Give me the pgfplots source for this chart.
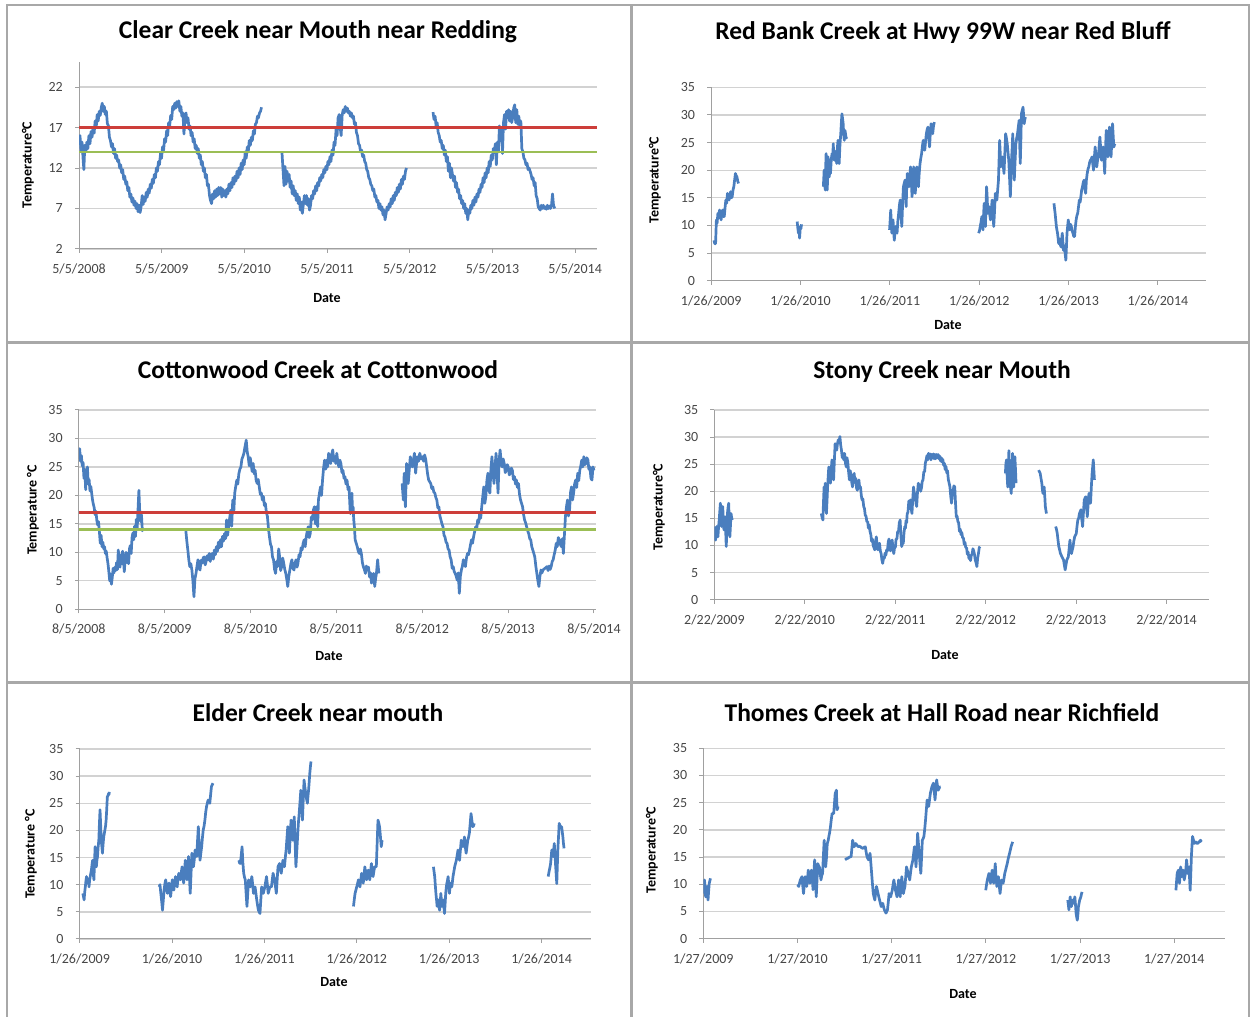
\documentclass[border=0pt]{standalone}
\usepackage{fontspec}
\setmainfont{Carlito}
\usepackage{pgfplots}
\pgfplotsset{compat=1.18}
\definecolor{serc}{RGB}{74,126,190}
\definecolor{redl}{RGB}{205,62,58}
\definecolor{greenl}{RGB}{155,190,85}
\definecolor{gridc}{RGB}{210,210,210}
\definecolor{axc}{RGB}{160,160,160}
\definecolor{tickc}{RGB}{70,70,70}
\definecolor{framec}{RGB}{168,168,168}
\newcommand\tf{\fontsize{25.5}{30}\selectfont\bfseries}
\newcommand\lf{\fontsize{14}{16}\selectfont\bfseries}
\pgfplotsset{
 panel/.style={
  scale only axis,
  axis x line*=bottom, axis y line*=left,
  axis line style={draw=axc, line width=1pt},
  ymajorgrids, major grid style={draw=gridc, line width=1.3pt},
  tick align=outside, major tick length=4pt,
  tick style={draw=axc, line width=1pt},
  xmin=0, xtick={0,1,2,3,4,5,6},
  /pgf/number format/assume math mode=true,
  ticklabel style={font=\fontsize{14}{16}\selectfont, text=tickc},
  xticklabel style={anchor=center, yshift=-16pt, inner sep=0pt},
  yticklabel style={anchor=east, xshift=-12pt, inner sep=0pt},
 },
 ser/.style={color=serc, line width=2.7pt, line join=round, no markers},
 redline/.style={color=redl, line width=2.4pt, no markers},
 greenline/.style={color=greenl, line width=2.4pt, no markers},
}
\begin{document}
\begin{tikzpicture}[x=1pt,y=1pt]
\useasboundingbox (0,0) rectangle (1251,1017);
% frames
\draw[framec, line width=2pt] (7,0) -- (7,1012) -- (1249,1012) -- (1249,0);
\draw[framec, line width=3pt] (631,0) -- (631,1012);
\draw[framec, line width=3pt] (7,674.5) -- (1249,674.5);
\draw[framec, line width=3pt] (7,334.5) -- (1249,334.5);

% ---------- Panel 1 ----------
\begin{axis}[panel, at={(79pt,768pt)}, anchor=south west, width=518pt, height=187pt,
  xmax=6.264, ymin=2, ymax=25.09, ytick={2,7,12,17,22},
  xticklabels={5/5/2008,5/5/2009,5/5/2010,5/5/2011,5/5/2012,5/5/2013,5/5/2014}]
\addplot[ser] coordinates {(0.000,15.0) (0.012,16.0) (0.025,14.0) (0.037,15.2) (0.050,13.0) (0.059,11.8) (0.070,14.8) (0.082,14.0) (0.095,15.2) (0.107,14.4) (0.120,16.0) (0.133,15.0) (0.145,16.5) (0.158,15.8) (0.170,17.0) (0.183,16.3) (0.195,17.8) (0.208,17.0) (0.220,18.6) (0.232,17.8) (0.245,19.0) (0.257,18.5) (0.270,19.5) (0.281,20.0) (0.293,19.0) (0.306,19.6) (0.318,18.6) (0.331,19.0) (0.343,17.5) (0.356,17.2) (0.368,15.8) (0.380,15.4) (0.393,14.6) (0.405,15.0) (0.418,13.8) (0.430,14.4) (0.443,13.2) (0.455,13.6) (0.467,12.8) (0.479,13.0) (0.492,12.0) (0.504,12.4) (0.516,11.4) (0.528,11.8) (0.541,10.6) (0.553,11.0) (0.566,10.0) (0.578,10.3) (0.590,9.2) (0.603,9.6) (0.615,8.4) (0.627,8.8) (0.640,7.8) (0.652,8.3) (0.665,7.4) (0.677,7.9) (0.690,7.0) (0.702,7.6) (0.714,6.6) (0.727,7.4) (0.739,6.5) (0.751,7.2) (0.764,8.6) (0.776,7.5) (0.788,8.4) (0.800,7.9) (0.813,9.0) (0.825,8.4) (0.837,9.4) (0.849,8.9) (0.862,10.0) (0.874,9.5) (0.887,10.6) (0.899,10.1) (0.911,11.2) (0.924,10.8) (0.936,12.0) (0.948,11.6) (0.961,12.8) (0.973,12.4) (0.986,13.8) (0.998,13.2) (1.010,14.6) (1.023,14.2) (1.035,15.6) (1.047,15.2) (1.060,16.6) (1.072,16.0) (1.084,17.6) (1.096,17.2) (1.109,18.5) (1.121,18.0) (1.133,19.6) (1.146,19.2) (1.158,20.0) (1.170,19.4) (1.183,20.2) (1.195,19.6) (1.207,20.3) (1.220,19.0) (1.232,19.6) (1.244,18.4) (1.257,18.8) (1.269,16.2) (1.281,18.0) (1.294,18.8) (1.306,17.6) (1.318,18.2) (1.331,16.8) (1.343,17.2) (1.355,16.0) (1.368,16.4) (1.380,15.2) (1.393,15.6) (1.405,14.4) (1.418,14.8) (1.430,13.8) (1.442,14.4) (1.455,13.2) (1.467,13.6) (1.479,12.4) (1.491,12.8) (1.504,11.6) (1.516,12.0) (1.528,10.8) (1.541,11.2) (1.553,9.8) (1.565,10.0) (1.578,8.6) (1.590,8.0) (1.603,7.6) (1.615,8.8) (1.628,8.2) (1.640,9.2) (1.652,8.4) (1.665,9.4) (1.677,8.6) (1.689,9.6) (1.702,8.8) (1.714,9.6) (1.727,8.4) (1.739,9.4) (1.751,8.6) (1.764,9.2) (1.776,8.4) (1.788,9.4) (1.800,8.8) (1.813,10.0) (1.825,9.2) (1.837,10.2) (1.849,9.6) (1.862,10.8) (1.874,10.0) (1.886,11.0) (1.899,10.4) (1.911,11.6) (1.924,10.8) (1.936,12.0) (1.948,11.2) (1.961,12.6) (1.973,11.8) (1.985,13.0) (1.998,12.4) (2.010,14.0) (2.022,13.2) (2.035,14.6) (2.047,14.0) (2.059,15.4) (2.072,14.8) (2.084,15.8) (2.096,15.4) (2.109,16.6) (2.121,16.2) (2.133,17.4) (2.146,17.6) (2.158,18.4) (2.170,18.2) (2.183,18.8) (2.195,19.0) (2.207,19.5)};
\addplot[ser] coordinates {(2.454,14.0) (2.466,12.0) (2.479,9.8) (2.491,12.2) (2.504,10.0) (2.516,11.6) (2.528,10.4) (2.541,11.2) (2.553,9.6) (2.565,10.4) (2.578,8.8) (2.590,9.8) (2.602,8.6) (2.615,9.2) (2.627,8.0) (2.639,8.8) (2.652,7.6) (2.664,8.4) (2.676,6.8) (2.689,7.8) (2.701,6.4) (2.714,7.6) (2.726,8.6) (2.738,7.6) (2.751,8.6) (2.763,7.4) (2.775,8.2) (2.788,6.8) (2.800,7.4) (2.812,8.6) (2.825,8.2) (2.837,9.2) (2.849,8.8) (2.862,9.8) (2.874,9.2) (2.886,10.2) (2.899,9.8) (2.911,10.8) (2.923,10.4) (2.936,11.2) (2.948,10.8) (2.960,11.8) (2.973,11.4) (2.985,12.2) (2.998,11.8) (3.010,12.8) (3.022,12.4) (3.035,13.4) (3.047,12.8) (3.059,14.2) (3.072,13.6) (3.084,15.2) (3.096,14.8) (3.109,16.8) (3.121,16.0) (3.133,18.2) (3.146,18.6) (3.158,17.0) (3.170,16.0) (3.183,18.6) (3.195,19.2) (3.207,18.8) (3.220,19.6) (3.232,19.0) (3.245,19.4) (3.257,18.8) (3.269,19.0) (3.282,18.4) (3.294,18.8) (3.306,18.2) (3.318,18.4) (3.331,17.4) (3.343,17.6) (3.355,16.4) (3.368,16.0) (3.380,15.0) (3.393,14.8) (3.405,14.0) (3.418,14.2) (3.430,13.4) (3.442,13.6) (3.455,12.8) (3.467,12.6) (3.479,11.8) (3.491,11.6) (3.504,10.8) (3.516,10.6) (3.528,10.0) (3.541,9.8) (3.553,9.2) (3.565,9.4) (3.578,8.4) (3.590,8.6) (3.602,7.8) (3.615,8.0) (3.627,7.0) (3.639,7.6) (3.652,6.8) (3.664,7.2) (3.676,6.2) (3.689,6.8) (3.701,5.6) (3.714,6.4) (3.726,7.2) (3.738,6.8) (3.751,7.6) (3.763,7.2) (3.775,8.2) (3.788,7.6) (3.800,8.6) (3.812,8.0) (3.825,9.0) (3.837,8.6) (3.849,9.6) (3.862,9.0) (3.874,10.0) (3.886,9.4) (3.899,10.6) (3.911,10.0) (3.923,11.0) (3.936,10.6) (3.948,11.6) (3.960,12.0)};
\addplot[ser] coordinates {(4.281,18.9) (4.293,18.0) (4.306,18.4) (4.318,17.2) (4.331,17.6) (4.343,16.4) (4.356,16.0) (4.368,15.2) (4.380,15.4) (4.393,14.4) (4.405,14.8) (4.418,13.6) (4.430,14.2) (4.442,12.8) (4.455,13.4) (4.467,11.6) (4.479,12.6) (4.492,10.8) (4.504,12.0) (4.516,11.2) (4.528,10.4) (4.541,11.0) (4.553,9.6) (4.565,10.2) (4.578,9.0) (4.590,9.4) (4.602,8.2) (4.615,8.6) (4.627,7.6) (4.639,8.0) (4.652,7.0) (4.664,7.6) (4.677,6.4) (4.689,7.0) (4.701,5.6) (4.714,6.8) (4.726,6.4) (4.738,7.4) (4.751,7.0) (4.763,8.0) (4.775,7.4) (4.788,8.4) (4.800,7.8) (4.812,8.8) (4.825,8.4) (4.837,9.4) (4.849,9.0) (4.862,10.0) (4.874,9.6) (4.886,10.8) (4.899,10.2) (4.911,11.4) (4.923,10.8) (4.936,12.0) (4.948,11.4) (4.960,12.8) (4.973,12.2) (4.985,13.6) (4.998,13.0) (5.010,14.4) (5.022,14.0) (5.035,15.0) (5.047,12.4) (5.059,15.2) (5.072,14.0) (5.084,17.2) (5.096,15.4) (5.109,17.0) (5.121,13.8) (5.133,17.6) (5.146,18.6) (5.158,16.8) (5.170,19.0) (5.183,18.2) (5.195,19.2) (5.207,17.8) (5.220,19.0) (5.232,17.6) (5.244,18.2) (5.257,19.4) (5.269,19.8) (5.281,17.6) (5.294,19.2) (5.306,17.4) (5.318,18.4) (5.331,17.2) (5.343,17.8) (5.355,14.4) (5.368,14.0) (5.380,13.2) (5.393,13.0) (5.405,12.4) (5.418,12.6) (5.430,11.8) (5.442,12.0) (5.455,11.6) (5.467,11.2) (5.479,10.6) (5.491,10.8) (5.504,9.8) (5.516,10.2) (5.528,8.6) (5.541,8.2) (5.553,7.2) (5.565,7.0) (5.578,6.8) (5.590,7.4) (5.602,7.0) (5.615,7.4) (5.627,7.0) (5.640,7.2) (5.652,6.9) (5.664,7.4) (5.677,7.0) (5.689,7.3) (5.701,7.0) (5.714,7.4) (5.726,8.8) (5.738,7.4) (5.753,7.0)};
\addplot[redline] coordinates {(0,17) (6.264,17)};
\addplot[greenline] coordinates {(0,14) (6.264,14)};
\end{axis}

% ---------- Panel 2 ----------
\begin{axis}[panel, at={(711.2pt,736.3pt)}, anchor=south west, width=495pt, height=193.4pt,
  xmax=5.54, ymin=0, ymax=35, ytick={0,5,...,35},
  xticklabels={1/26/2009,1/26/2010,1/26/2011,1/26/2012,1/26/2013,1/26/2014}]
\addplot[ser] coordinates {(0.031,7.3) (0.040,6.7) (0.049,6.7) (0.058,11.0) (0.066,10.4) (0.075,12.2) (0.084,11.4) (0.093,12.8) (0.102,11.6) (0.111,11.0) (0.120,12.4) (0.129,12.8) (0.137,11.6) (0.146,11.6) (0.155,13.2) (0.164,14.6) (0.173,14.0) (0.182,15.8) (0.191,15.0) (0.200,14.6) (0.208,15.4) (0.217,16.1) (0.226,15.0) (0.235,15.2) (0.244,16.4) (0.253,17.0) (0.262,18.2) (0.271,19.4) (0.280,19.0) (0.288,18.8) (0.297,18.0) (0.306,17.6)};
\addplot[ser] coordinates {(0.962,10.7) (0.969,9.6) (0.976,8.6) (0.983,9.2) (0.989,7.7) (0.998,9.8) (1.004,9.4) (1.011,10.2)};
\addplot[ser] coordinates {(1.255,17.0) (1.260,18.6) (1.264,20.0) (1.270,17.4) (1.277,16.4) (1.281,20.4) (1.286,23.0) (1.292,20.0) (1.299,16.4) (1.304,19.6) (1.308,22.4) (1.315,20.0) (1.322,18.8) (1.328,21.0) (1.335,19.4) (1.344,22.0) (1.353,23.0) (1.360,22.0) (1.366,24.8) (1.372,22.6) (1.379,21.8) (1.388,23.4) (1.397,22.4) (1.405,21.2) (1.412,24.0) (1.419,25.4) (1.425,23.2) (1.432,21.2) (1.441,24.6) (1.450,26.6) (1.456,28.4) (1.463,30.2) (1.470,29.4) (1.477,28.4) (1.483,26.4) (1.490,25.4) (1.497,27.2) (1.503,26.6) (1.510,25.8) (1.517,26.0)};
\addplot[ser] coordinates {(1.996,9.2) (2.003,11.0) (2.009,12.8) (2.016,10.2) (2.022,8.6) (2.029,10.4) (2.035,11.0) (2.042,9.0) (2.049,7.3) (2.055,8.4) (2.062,9.8) (2.071,9.0) (2.080,8.6) (2.089,10.8) (2.098,12.2) (2.106,13.6) (2.115,14.6) (2.124,12.0) (2.133,9.8) (2.142,13.8) (2.151,17.0) (2.160,17.6) (2.169,18.2) (2.175,15.8) (2.182,13.4) (2.188,16.8) (2.195,19.4) (2.204,18.2) (2.213,17.0) (2.222,19.0) (2.231,20.6) (2.240,17.8) (2.248,15.2) (2.257,18.0) (2.266,20.6) (2.275,18.4) (2.284,15.8) (2.293,18.6) (2.302,20.6) (2.311,19.2) (2.319,17.0) (2.328,19.4) (2.337,21.2) (2.346,22.2) (2.355,23.0) (2.364,24.4) (2.373,25.4) (2.381,24.4) (2.390,23.6) (2.399,25.2) (2.408,26.6) (2.417,27.4) (2.426,27.8) (2.435,25.8) (2.444,24.2) (2.452,26.6) (2.461,28.4) (2.470,27.4) (2.479,26.6) (2.488,28.0) (2.497,28.7)};
\addplot[ser] coordinates {(2.993,8.6) (3.002,9.0) (3.011,9.8) (3.020,10.6) (3.029,11.6) (3.035,10.2) (3.042,9.2) (3.048,11.8) (3.055,14.0) (3.062,12.0) (3.069,9.8) (3.075,13.4) (3.082,17.0) (3.089,15.0) (3.095,12.2) (3.102,12.6) (3.109,13.4) (3.117,12.0) (3.126,11.0) (3.135,12.8) (3.144,14.6) (3.153,12.2) (3.162,9.8) (3.171,12.6) (3.180,15.8) (3.189,15.4) (3.197,14.6) (3.206,16.4) (3.215,18.2) (3.222,22.0) (3.228,25.4) (3.235,23.0) (3.242,20.6) (3.250,21.4) (3.259,22.4) (3.268,21.0) (3.277,19.4) (3.286,23.0) (3.295,26.6) (3.304,25.8) (3.313,24.8) (3.321,23.4) (3.330,21.8) (3.339,18.6) (3.348,15.2) (3.354,18.4) (3.361,21.8) (3.368,24.0) (3.375,26.6) (3.383,22.4) (3.392,18.2) (3.401,21.6) (3.410,24.8) (3.419,25.8) (3.428,26.6) (3.437,27.8) (3.446,29.0) (3.452,25.0) (3.459,21.2) (3.466,25.6) (3.472,30.2) (3.481,30.8) (3.490,31.4) (3.497,29.8) (3.503,28.4) (3.510,29.2) (3.517,29.6)};
\addplot[ser] coordinates {(3.836,14.0) (3.843,13.0) (3.849,12.2) (3.856,11.0) (3.863,9.8) (3.869,9.2) (3.876,8.6) (3.883,7.6) (3.889,6.7) (3.896,7.6) (3.902,7.3) (3.909,6.4) (3.916,6.1) (3.922,7.4) (3.929,8.6) (3.936,7.0) (3.942,5.5) (3.949,6.4) (3.956,6.1) (3.962,4.8) (3.969,3.7) (3.976,6.2) (3.982,8.6) (3.989,9.8) (3.996,11.0) (4.004,10.0) (4.013,9.2) (4.022,10.2) (4.031,9.8) (4.040,9.0) (4.049,8.6) (4.058,8.0) (4.067,8.0) (4.076,9.8) (4.084,11.0) (4.093,11.8) (4.102,12.2) (4.111,13.4) (4.120,14.6) (4.129,14.2) (4.137,15.2) (4.146,16.4) (4.155,17.0) (4.164,17.8) (4.173,18.2) (4.182,16.6) (4.191,15.8) (4.199,18.2) (4.208,19.4) (4.217,20.2) (4.226,20.6) (4.235,21.4) (4.244,21.8) (4.253,22.0) (4.262,22.4) (4.270,21.2) (4.279,20.0) (4.288,22.2) (4.297,24.2) (4.306,22.6) (4.315,20.6) (4.324,21.8) (4.333,22.4) (4.341,24.2) (4.350,26.0) (4.359,24.0) (4.368,21.8) (4.377,23.0) (4.386,24.2) (4.395,22.0) (4.404,19.4) (4.412,23.4) (4.421,27.2) (4.430,24.8) (4.439,22.4) (4.448,25.2) (4.457,27.8) (4.466,25.0) (4.475,22.4) (4.484,25.4) (4.492,28.4) (4.499,26.2) (4.506,24.2) (4.513,24.6) (4.519,24.8)};
\end{axis}

% ---------- Panel 3 ----------
\begin{axis}[panel, at={(78.8pt,407.7pt)}, anchor=south west, width=517.2pt, height=199.3pt,
  xmax=6.024, ymin=0, ymax=35, ytick={0,5,...,35},
  xticklabels={8/5/2008,8/5/2009,8/5/2010,8/5/2011,8/5/2012,8/5/2013,8/5/2014}]
\addplot[ser] coordinates {(0.000,27.0) (0.010,28.2) (0.020,26.0) (0.030,27.0) (0.040,25.2) (0.050,25.8) (0.060,23.0) (0.070,24.6) (0.080,21.0) (0.090,24.0) (0.100,25.0) (0.110,22.0) (0.120,22.8) (0.130,20.8) (0.140,21.6) (0.150,20.4) (0.160,19.2) (0.170,18.4) (0.180,17.8) (0.190,16.6) (0.200,17.2) (0.210,15.6) (0.220,14.8) (0.230,15.4) (0.240,13.6) (0.250,11.6) (0.260,13.0) (0.270,11.0) (0.280,11.8) (0.290,10.6) (0.300,11.0) (0.310,9.8) (0.320,10.2) (0.330,9.0) (0.340,8.0) (0.350,6.6) (0.360,5.0) (0.370,6.2) (0.380,4.4) (0.390,5.6) (0.400,7.2) (0.410,6.4) (0.420,7.4) (0.430,6.8) (0.440,8.2) (0.450,7.0) (0.460,10.4) (0.470,8.6) (0.480,7.4) (0.490,9.6) (0.500,8.0) (0.510,10.2) (0.520,8.6) (0.530,6.6) (0.540,8.8) (0.550,10.0) (0.560,8.2) (0.570,9.8) (0.580,8.0) (0.590,10.6) (0.600,11.2) (0.610,9.8) (0.620,12.6) (0.630,13.4) (0.640,12.2) (0.650,14.6) (0.660,12.8) (0.670,15.8) (0.680,14.2) (0.690,17.6) (0.700,20.9) (0.710,17.0) (0.720,15.4) (0.730,16.6) (0.740,13.8) (0.747,14.2)};
\addplot[ser] coordinates {(1.246,13.9) (1.258,12.0) (1.270,10.4) (1.282,8.6) (1.293,7.5) (1.305,8.0) (1.317,6.9) (1.329,5.0) (1.341,2.2) (1.353,5.4) (1.365,6.3) (1.377,7.6) (1.388,8.7) (1.400,7.2) (1.412,6.9) (1.424,8.6) (1.436,8.1) (1.448,9.0) (1.460,9.2) (1.472,7.8) (1.483,8.4) (1.495,9.4) (1.507,8.7) (1.519,9.8) (1.531,8.4) (1.543,9.6) (1.555,9.8) (1.567,8.8) (1.579,10.4) (1.591,9.6) (1.603,11.0) (1.615,10.2) (1.626,11.8) (1.638,10.8) (1.650,12.2) (1.662,11.0) (1.674,12.8) (1.686,12.0) (1.698,13.3) (1.710,12.4) (1.721,15.7) (1.733,13.0) (1.745,14.5) (1.757,16.0) (1.769,17.4) (1.781,14.6) (1.793,19.2) (1.805,17.0) (1.816,20.4) (1.828,21.6) (1.840,22.7) (1.852,22.0) (1.864,23.8) (1.876,24.6) (1.888,25.0) (1.900,26.4) (1.911,26.8) (1.923,27.4) (1.935,28.5) (1.950,29.7) (1.962,27.6) (1.973,26.8) (1.985,25.2) (1.997,26.6) (2.007,25.6) (2.019,24.2) (2.031,25.6) (2.043,23.8) (2.054,24.4) (2.066,22.6) (2.078,22.1) (2.090,22.8) (2.102,21.5) (2.114,20.2) (2.126,20.4) (2.138,19.2) (2.150,19.8) (2.162,18.2) (2.173,18.6) (2.185,17.0) (2.197,16.3) (2.209,14.2) (2.221,12.7) (2.233,11.4) (2.244,11.0) (2.256,9.2) (2.268,8.7) (2.280,7.0) (2.292,6.3) (2.304,8.4) (2.316,7.5) (2.328,10.6) (2.339,9.2) (2.351,6.8) (2.363,7.5) (2.375,9.0) (2.387,8.1) (2.399,7.0) (2.411,6.3) (2.423,5.2) (2.434,4.0) (2.446,5.8) (2.458,6.9) (2.470,8.0) (2.482,8.7) (2.494,7.2) (2.506,6.9) (2.518,8.0) (2.530,8.7) (2.542,7.4) (2.553,8.1) (2.565,9.6) (2.577,9.2) (2.589,10.8) (2.601,10.4) (2.613,11.6) (2.625,12.2) (2.637,11.0) (2.649,12.7) (2.661,13.8) (2.672,14.5) (2.684,12.6) (2.696,13.3) (2.708,16.2) (2.720,15.7) (2.732,17.4) (2.744,18.0) (2.756,15.0) (2.767,18.0) (2.782,14.5) (2.791,19.2) (2.803,20.4) (2.815,21.5) (2.827,20.0) (2.839,22.7) (2.851,24.8) (2.863,26.2) (2.875,24.6) (2.886,26.2) (2.898,25.0) (2.910,27.4) (2.922,26.0) (2.934,25.6) (2.946,27.2) (2.958,28.0) (2.970,26.0) (2.981,26.8) (2.993,25.6) (3.005,27.4) (3.017,25.8) (3.029,25.0) (3.041,26.2) (3.053,25.6) (3.065,24.0) (3.077,24.4) (3.089,23.0) (3.100,23.3) (3.112,22.0) (3.124,22.7) (3.136,21.0) (3.148,21.5) (3.155,19.0) (3.162,16.8) (3.172,19.6) (3.181,20.4) (3.188,17.2) (3.195,18.0) (3.202,15.8) (3.210,14.5) (3.219,12.2) (3.231,11.6) (3.243,11.0) (3.255,10.2) (3.267,9.8) (3.279,10.6) (3.291,9.8) (3.303,8.2) (3.314,7.5) (3.326,7.0) (3.338,6.3) (3.350,7.6) (3.362,6.9) (3.374,7.4) (3.386,5.7) (3.398,6.4) (3.409,4.6) (3.421,5.6) (3.433,6.3) (3.440,5.2) (3.447,4.0) (3.457,5.4) (3.467,6.3) (3.474,7.6) (3.481,8.7) (3.488,7.4) (3.495,6.3)};
\addplot[ser] coordinates {(3.766,22.1) (3.780,19.2) (3.790,23.9) (3.804,18.0) (3.818,25.6) (3.837,22.1) (3.861,26.8) (3.885,25.0) (3.909,27.4) (3.923,23.9) (3.942,26.8) (3.957,26.0) (3.971,27.4) (3.988,26.4) (4.004,26.8) (4.016,26.0) (4.028,27.1) (4.040,26.4) (4.052,25.0) (4.064,23.6) (4.075,22.7) (4.087,22.4) (4.099,22.1) (4.111,21.2) (4.123,21.5) (4.135,20.6) (4.147,20.4) (4.159,19.6) (4.170,19.2) (4.182,17.8) (4.194,18.0) (4.206,16.4) (4.218,15.7) (4.230,15.0) (4.242,14.5) (4.254,13.0) (4.265,12.7) (4.277,11.8) (4.289,11.6) (4.301,10.6) (4.313,10.4) (4.325,9.2) (4.337,8.7) (4.349,7.2) (4.361,7.5) (4.373,6.6) (4.384,6.3) (4.396,5.8) (4.408,5.1) (4.420,6.4) (4.432,2.8) (4.444,5.8) (4.456,6.9) (4.468,7.6) (4.479,8.7) (4.491,8.0) (4.503,7.5) (4.515,9.0) (4.527,9.8) (4.539,9.6) (4.551,10.4) (4.563,11.4) (4.574,12.2) (4.586,11.6) (4.598,12.7) (4.610,13.6) (4.622,14.5) (4.634,14.0) (4.646,15.7) (4.658,15.2) (4.669,16.8) (4.681,16.0) (4.693,18.0) (4.705,19.8) (4.717,21.5) (4.729,18.6) (4.741,19.8) (4.753,22.6) (4.765,23.9) (4.777,21.0) (4.788,20.4) (4.800,24.6) (4.812,26.8) (4.824,24.0) (4.836,22.1) (4.848,25.0) (4.860,27.4) (4.872,23.8) (4.883,20.4) (4.895,26.0) (4.907,28.0) (4.919,26.0) (4.931,25.0) (4.943,26.4) (4.955,25.6) (4.967,24.0) (4.979,24.4) (4.990,25.4) (5.002,25.0) (5.014,23.6) (5.026,23.9) (5.038,24.8) (5.050,24.4) (5.062,22.8) (5.074,23.3) (5.086,22.0) (5.097,22.7) (5.109,21.4) (5.121,22.1) (5.133,20.2) (5.145,19.2) (5.157,18.6) (5.169,18.0) (5.181,16.6) (5.192,15.7) (5.204,15.2) (5.216,14.5) (5.228,13.8) (5.240,13.3) (5.252,12.4) (5.264,12.2) (5.276,11.0) (5.288,10.4) (5.300,9.8) (5.311,9.2) (5.323,7.6) (5.335,6.3) (5.347,5.0) (5.359,4.0) (5.371,5.8) (5.383,6.9) (5.395,6.4) (5.406,6.9) (5.430,7.2) (5.454,7.5) (5.466,6.8) (5.478,7.6) (5.490,7.0) (5.502,7.5) (5.514,8.4) (5.525,8.7) (5.537,9.6) (5.549,10.4) (5.561,11.6) (5.573,11.0) (5.585,12.6) (5.597,12.2) (5.609,11.4) (5.620,11.0) (5.632,12.4) (5.644,9.8) (5.656,13.0) (5.668,16.3) (5.680,18.0) (5.692,19.2) (5.704,16.4) (5.716,17.4) (5.728,20.6) (5.739,21.5) (5.751,19.2) (5.763,20.4) (5.775,22.0) (5.787,22.7) (5.799,21.4) (5.811,23.9) (5.823,22.6) (5.835,24.4) (5.847,25.2) (5.858,26.2) (5.870,25.0) (5.882,26.8) (5.894,25.4) (5.906,25.6) (5.918,26.6) (5.930,26.2) (5.941,24.6) (5.953,25.0) (5.965,23.0) (5.977,22.7) (5.989,25.0) (6.000,24.4)};
\addplot[redline] coordinates {(0,17) (6.024,17)};
\addplot[greenline] coordinates {(0,14) (6.024,14)};
\end{axis}

% ---------- Panel 4 ----------
\begin{axis}[panel, at={(714.4pt,417.3pt)}, anchor=south west, width=494.6pt, height=189.7pt,
  xmax=5.47, ymin=0, ymax=35, ytick={0,5,...,35},
  xticklabels={2/22/2009,2/22/2010,2/22/2011,2/22/2012,2/22/2013,2/22/2014}]
\addplot[ser] coordinates {(0,13.5) (0.007,12.0) (0.013,11.0) (0.020,12.8) (0.026,13.5) (0.033,12.0) (0.039,11.6) (0.046,13.4) (0.053,14.7) (0.060,16.4) (0.066,17.8) (0.073,15.0) (0.079,13.5) (0.086,15.4) (0.092,17.2) (0.099,14.6) (0.105,12.9) (0.112,14.2) (0.118,15.3) (0.125,12.6) (0.131,9.8) (0.138,13.0) (0.144,15.9) (0.151,17.0) (0.158,17.8) (0.164,14.6) (0.171,11.6) (0.178,13.8) (0.184,15.9) (0.190,15.2) (0.197,14.7)};
\addplot[ser] coordinates {(1.182,15.9) (1.191,15.2) (1.200,14.7) (1.206,17.8) (1.213,20.8) (1.220,20.0) (1.226,21.5) (1.233,18.6) (1.239,15.9) (1.246,18.4) (1.252,20.8) (1.258,22.6) (1.265,24.5) (1.274,23.0) (1.283,21.5) (1.291,23.6) (1.300,25.8) (1.309,24.0) (1.318,22.1) (1.326,25.4) (1.335,28.8) (1.344,28.0) (1.353,27.6) (1.361,28.8) (1.370,29.5) (1.379,29.0) (1.388,30.1) (1.396,28.6) (1.405,27.6) (1.414,26.2) (1.423,27.0) (1.431,25.8) (1.440,27.0) (1.449,25.2) (1.458,24.5) (1.466,26.2) (1.475,25.4) (1.484,23.6) (1.493,22.1) (1.502,23.8) (1.511,23.0) (1.519,21.6) (1.528,20.8) (1.537,22.8) (1.546,23.3) (1.554,21.6) (1.563,22.4) (1.572,20.6) (1.581,20.2) (1.590,21.6) (1.598,22.1) (1.607,20.6) (1.616,20.8) (1.625,19.2) (1.633,18.4) (1.642,18.6) (1.651,17.2) (1.660,16.8) (1.668,15.6) (1.677,15.4) (1.686,14.4) (1.695,14.4) (1.703,13.2) (1.712,13.8) (1.721,12.6) (1.730,12.0) (1.738,10.8) (1.747,11.2) (1.756,10.0) (1.765,9.6) (1.773,9.2) (1.782,10.8) (1.791,11.6) (1.800,9.8) (1.808,9.2) (1.817,10.2) (1.826,10.4) (1.835,9.0) (1.844,8.5) (1.852,7.4) (1.861,6.7) (1.870,7.6) (1.879,7.6) (1.887,8.6) (1.896,8.2) (1.905,9.2) (1.914,9.0) (1.922,10.6) (1.931,11.2) (1.940,9.8) (1.948,9.0) (1.957,10.6) (1.966,11.0) (1.975,9.4) (1.984,8.5) (1.992,9.6) (2.001,9.6) (2.009,11.2) (2.018,11.2) (2.027,12.6) (2.036,12.6) (2.045,14.2) (2.054,14.7) (2.062,12.0) (2.071,9.8) (2.080,10.4) (2.089,10.4) (2.097,12.4) (2.106,13.5) (2.113,13.2) (2.119,14.6) (2.126,14.2) (2.132,15.8) (2.141,16.2) (2.150,18.2) (2.158,17.6) (2.167,18.4) (2.176,16.8) (2.185,15.9) (2.193,18.4) (2.202,20.8) (2.211,19.6) (2.220,19.6) (2.229,17.8) (2.237,17.2) (2.246,19.8) (2.255,21.5) (2.263,20.6) (2.272,21.2) (2.281,20.0) (2.290,20.6) (2.298,21.8) (2.307,22.1) (2.316,23.6) (2.325,23.6) (2.333,25.2) (2.342,25.8) (2.351,26.6) (2.360,25.8) (2.368,27.0) (2.377,26.4) (2.386,26.9) (2.395,25.8) (2.403,26.8) (2.412,26.2) (2.421,26.9) (2.430,26.0) (2.438,26.8) (2.447,26.0) (2.456,26.8) (2.465,26.2) (2.473,26.8) (2.482,26.0) (2.491,26.5) (2.500,25.6) (2.508,26.2) (2.517,25.4) (2.526,25.9) (2.535,24.8) (2.543,25.2) (2.552,24.0) (2.561,24.6) (2.570,23.4) (2.578,23.8) (2.587,22.2) (2.596,21.5) (2.605,20.8) (2.614,19.0) (2.623,17.8) (2.631,19.4) (2.640,20.2) (2.649,21.0) (2.658,20.8) (2.666,18.0) (2.675,15.3) (2.684,15.4) (2.693,14.4) (2.701,14.2) (2.710,12.6) (2.719,13.0) (2.728,12.0) (2.736,12.4) (2.745,11.4) (2.754,11.4) (2.763,10.2) (2.771,10.6) (2.780,9.6) (2.789,9.6) (2.797,8.4) (2.806,8.8) (2.815,7.6) (2.824,8.0) (2.833,7.2) (2.841,8.2) (2.850,8.4) (2.859,9.4) (2.868,9.0) (2.876,8.4) (2.885,7.3) (2.894,6.8) (2.903,6.1) (2.911,7.6) (2.920,8.5) (2.929,9.6) (2.938,9.8)};
\addplot[ser] coordinates {(3.218,23.3) (3.224,25.2) (3.231,25.8) (3.237,23.0) (3.244,20.8) (3.250,24.4) (3.257,27.5) (3.263,24.0) (3.270,21.5) (3.276,20.6) (3.283,19.6) (3.290,23.0) (3.297,27.0) (3.303,24.0) (3.310,20.8) (3.316,23.6) (3.323,26.4) (3.330,24.0) (3.336,21.5)};
\addplot[ser] coordinates {(3.586,23.9) (3.595,23.6) (3.603,23.3) (3.612,22.4) (3.621,21.5) (3.628,20.2) (3.634,19.6) (3.641,20.2) (3.647,20.8) (3.654,19.0) (3.660,17.2) (3.667,16.4) (3.673,15.9)};
\addplot[ser] coordinates {(3.774,13.5) (3.783,13.0) (3.792,12.2) (3.800,11.0) (3.809,9.8) (3.818,9.2) (3.827,8.5) (3.836,8.2) (3.844,7.9) (3.853,7.6) (3.862,7.3) (3.870,6.4) (3.879,5.5) (3.888,6.4) (3.897,7.3) (3.905,7.6) (3.914,7.9) (3.923,9.4) (3.932,11.0) (3.940,9.6) (3.949,8.5) (3.958,9.2) (3.967,9.8) (3.975,10.8) (3.984,11.6) (3.993,11.9) (4.002,12.2) (4.010,13.5) (4.019,14.7) (4.028,15.0) (4.037,15.9) (4.045,16.2) (4.054,16.6) (4.063,14.8) (4.072,13.5) (4.081,16.0) (4.090,18.4) (4.098,18.7) (4.107,19.0) (4.115,17.2) (4.124,15.3) (4.133,17.4) (4.142,19.6) (4.151,18.6) (4.160,17.8) (4.168,20.6) (4.177,23.3) (4.184,24.6) (4.190,25.8) (4.197,23.8) (4.203,22.1)};
\end{axis}

% ---------- Panel 5 ----------
\begin{axis}[panel, at={(79.6pt,78pt)}, anchor=south west, width=511pt, height=190pt,
  xmax=5.53, ymin=0, ymax=35, ytick={0,5,...,35},
  xticklabels={1/26/2009,1/26/2010,1/26/2011,1/26/2012,1/26/2013,1/26/2014}]
\addplot[ser] coordinates {(0.035,8.4) (0.042,7.8) (0.049,7.2) (0.055,8.6) (0.062,9.6) (0.068,10.6) (0.075,11.5) (0.082,10.6) (0.088,10.3) (0.095,11.0) (0.102,9.6) (0.108,10.8) (0.115,11.5) (0.122,12.2) (0.128,12.7) (0.135,13.8) (0.141,14.5) (0.148,12.0) (0.155,10.9) (0.161,14.0) (0.168,17.0) (0.174,15.0) (0.181,13.3) (0.188,14.6) (0.194,15.2) (0.201,17.0) (0.208,18.2) (0.214,21.0) (0.221,23.8) (0.228,21.0) (0.234,18.2) (0.241,17.0) (0.247,15.8) (0.254,17.4) (0.261,18.8) (0.267,19.4) (0.274,20.1) (0.281,20.8) (0.287,21.9) (0.294,24.0) (0.300,26.2) (0.307,26.4) (0.314,26.8) (0.318,26.6) (0.322,27.1)};
\addplot[ser] coordinates {(0.861,9.6) (0.870,10.0) (0.879,8.4) (0.888,7.0) (0.897,5.3) (0.906,7.2) (0.914,9.0) (0.923,10.2) (0.932,10.9) (0.941,9.4) (0.950,8.4) (0.958,9.6) (0.967,10.3) (0.976,8.6) (0.985,7.8) (0.994,9.4) (1.003,10.9) (1.011,9.8) (1.020,9.0) (1.029,10.6) (1.038,11.5) (1.047,10.4) (1.056,9.6) (1.064,11.0) (1.073,12.1) (1.082,11.4) (1.091,10.9) (1.100,12.2) (1.109,13.3) (1.117,11.6) (1.126,10.3) (1.135,12.4) (1.144,14.5) (1.153,12.6) (1.162,10.9) (1.170,13.0) (1.179,15.2) (1.188,11.6) (1.197,8.4) (1.206,12.0) (1.215,15.8) (1.223,14.4) (1.232,13.3) (1.241,14.6) (1.250,16.4) (1.259,15.8) (1.268,15.2) (1.276,18.0) (1.285,20.7) (1.294,17.2) (1.303,14.5) (1.312,15.8) (1.321,17.0) (1.329,18.6) (1.338,20.1) (1.347,20.8) (1.356,21.9) (1.365,23.4) (1.374,24.4) (1.382,25.0) (1.391,25.6) (1.400,25.4) (1.409,25.0) (1.418,26.6) (1.427,28.1) (1.435,28.4) (1.444,28.7)};
\addplot[ser] coordinates {(1.723,14.5) (1.731,14.0) (1.740,13.9) (1.749,15.4) (1.758,17.0) (1.767,14.0) (1.776,12.1) (1.784,11.4) (1.793,10.9) (1.802,8.4) (1.811,6.0) (1.820,8.4) (1.829,10.9) (1.837,10.2) (1.846,9.6) (1.855,10.6) (1.864,11.5) (1.873,10.0) (1.882,8.4) (1.890,9.0) (1.899,9.6) (1.908,8.4) (1.917,7.2) (1.926,6.2) (1.935,5.3) (1.943,5.0) (1.952,4.7) (1.961,7.2) (1.970,9.6) (1.979,9.0) (1.988,8.4) (1.996,9.0) (2.005,9.6) (2.014,10.6) (2.023,11.5) (2.032,10.0) (2.041,8.4) (2.050,9.0) (2.058,9.6) (2.067,9.6) (2.076,9.6) (2.085,10.9) (2.094,12.1) (2.102,11.5) (2.111,10.9) (2.120,9.6) (2.129,8.4) (2.138,10.9) (2.147,13.3) (2.155,13.6) (2.164,13.9) (2.173,13.0) (2.182,12.1) (2.191,13.3) (2.200,14.5) (2.208,13.9) (2.217,13.3) (2.226,15.0) (2.235,16.4) (2.244,18.6) (2.253,20.7) (2.261,18.0) (2.270,15.8) (2.279,18.8) (2.288,21.9) (2.297,20.0) (2.306,18.2) (2.314,20.4) (2.323,22.5) (2.332,17.8) (2.341,13.3) (2.350,16.0) (2.359,18.8) (2.367,21.2) (2.376,23.1) (2.385,25.2) (2.394,27.4) (2.403,24.6) (2.412,21.9) (2.420,25.6) (2.429,29.3) (2.438,28.0) (2.447,26.8) (2.456,25.8) (2.465,25.0) (2.471,26.2) (2.478,27.4) (2.484,28.8) (2.491,30.5) (2.497,31.6) (2.504,32.7)};
\addplot[ser] coordinates {(2.964,6.0) (2.972,7.2) (2.981,8.4) (2.990,9.0) (2.999,9.6) (3.008,10.2) (3.017,10.9) (3.025,10.2) (3.034,9.6) (3.043,10.9) (3.052,12.1) (3.061,11.0) (3.070,10.3) (3.078,11.8) (3.087,13.3) (3.096,12.0) (3.105,10.9) (3.114,11.6) (3.123,12.7) (3.131,11.8) (3.140,10.9) (3.149,12.4) (3.158,13.9) (3.167,12.6) (3.176,11.5) (3.184,12.4) (3.193,13.3) (3.202,13.3) (3.211,13.3) (3.220,17.6) (3.229,21.9) (3.237,21.4) (3.246,20.7) (3.255,19.0) (3.264,17.0) (3.270,17.6) (3.273,18.2)};
\addplot[ser] coordinates {(3.829,13.3) (3.836,12.4) (3.843,11.5) (3.849,10.0) (3.856,8.4) (3.863,7.2) (3.869,6.0) (3.876,6.6) (3.883,7.2) (3.889,6.0) (3.896,5.3) (3.903,6.8) (3.909,8.4) (3.916,7.0) (3.922,6.0) (3.929,6.6) (3.936,7.2) (3.942,6.0) (3.949,4.7) (3.956,6.6) (3.962,8.4) (3.969,9.6) (3.975,10.3) (3.982,10.9) (3.988,11.5) (3.995,10.0) (4.002,8.4) (4.008,9.4) (4.015,10.3) (4.022,10.0) (4.028,9.6) (4.035,10.6) (4.041,11.5) (4.050,12.4) (4.059,13.3) (4.068,13.9) (4.077,14.5) (4.086,15.4) (4.095,16.4) (4.104,15.4) (4.112,14.5) (4.121,16.4) (4.130,18.2) (4.139,17.6) (4.148,17.0) (4.157,17.6) (4.165,18.8) (4.174,17.0) (4.183,15.8) (4.192,17.0) (4.201,18.2) (4.210,18.8) (4.218,19.5) (4.227,21.3) (4.236,23.1) (4.245,21.9) (4.254,20.7) (4.262,20.8) (4.271,21.3)};
\addplot[ser] coordinates {(5.071,11.5) (5.078,12.2) (5.084,12.7) (5.091,13.3) (5.097,13.9) (5.104,15.2) (5.110,16.4) (5.117,15.8) (5.124,15.2) (5.130,16.4) (5.137,17.6) (5.144,15.8) (5.150,13.9) (5.157,12.0) (5.164,10.2) (5.170,13.6) (5.177,17.0) (5.184,19.2) (5.190,21.3) (5.197,21.0) (5.203,20.7) (5.210,20.7) (5.216,20.7) (5.223,19.8) (5.230,18.8) (5.236,17.6) (5.243,16.7)};
\end{axis}

% ---------- Panel 6 ----------
\begin{axis}[panel, at={(703.3pt,78.3pt)}, anchor=south west, width=521.9pt, height=190.4pt,
  xmax=5.54, ymin=0, ymax=35, ytick={0,5,...,35},
  xticklabels={1/27/2009,1/27/2010,1/27/2011,1/27/2012,1/27/2013,1/27/2014}]
\addplot[ser] coordinates {(0,8.3) (0.006,9.6) (0.013,10.8) (0.019,9.0) (0.025,7.7) (0.031,8.6) (0.038,9.6) (0.044,8.2) (0.050,7.1) (0.057,8.8) (0.063,10.2) (0.069,10.6) (0.076,11.1)};
\addplot[ser] coordinates {(0.997,9.9) (1.005,9.8) (1.013,9.6) (1.021,10.2) (1.030,10.8) (1.038,11.1) (1.047,11.4) (1.055,9.8) (1.064,8.3) (1.072,9.8) (1.081,11.4) (1.089,10.4) (1.098,9.6) (1.106,11.0) (1.114,12.6) (1.123,11.4) (1.131,10.2) (1.140,11.4) (1.148,12.6) (1.157,11.0) (1.165,9.0) (1.173,11.8) (1.182,14.5) (1.190,11.0) (1.199,7.7) (1.207,10.8) (1.215,13.8) (1.224,13.4) (1.232,13.2) (1.241,12.0) (1.249,10.8) (1.257,11.6) (1.266,12.0) (1.274,15.0) (1.283,18.1) (1.291,15.4) (1.299,13.2) (1.308,15.0) (1.316,17.5) (1.325,18.0) (1.333,18.8) (1.342,19.6) (1.350,20.6) (1.358,21.8) (1.367,23.0) (1.375,23.0) (1.384,23.0) (1.392,24.8) (1.400,26.7) (1.407,27.0) (1.413,27.3) (1.417,25.0) (1.421,23.7) (1.426,24.0) (1.430,24.3)};
\addplot[ser] coordinates {(1.505,14.5) (1.520,14.7) (1.535,14.8) (1.552,15.0) (1.569,15.1) (1.577,16.6) (1.585,18.1) (1.594,17.4) (1.602,16.9) (1.610,17.2) (1.619,17.5) (1.631,17.2) (1.644,16.9) (1.656,17.0) (1.669,16.9) (1.682,16.7) (1.695,16.6) (1.707,16.8) (1.720,16.9) (1.728,16.0) (1.737,15.1) (1.745,14.8) (1.754,14.5) (1.762,15.1) (1.770,15.7) (1.779,13.8) (1.787,12.0) (1.795,10.2) (1.804,8.3) (1.812,7.7) (1.821,7.1) (1.829,8.4) (1.838,9.6) (1.846,9.0) (1.855,8.3) (1.863,7.7) (1.871,7.1) (1.880,6.5) (1.888,5.9) (1.896,6.2) (1.905,6.5) (1.913,5.9) (1.922,5.3) (1.930,5.0) (1.939,4.7) (1.947,5.0) (1.955,5.3) (1.964,6.8) (1.972,8.3) (1.981,8.0) (1.989,7.7) (1.997,8.3) (2.006,8.9) (2.014,9.9) (2.023,10.8) (2.031,9.9) (2.040,8.9) (2.048,8.3) (2.056,7.7) (2.065,9.2) (2.073,10.8) (2.082,9.2) (2.090,7.7) (2.098,9.6) (2.107,11.4) (2.115,9.9) (2.124,8.3) (2.132,9.0) (2.140,9.6) (2.149,11.4) (2.157,13.2) (2.166,12.6) (2.174,12.0) (2.182,11.4) (2.191,10.8) (2.199,12.0) (2.208,13.2) (2.216,13.8) (2.225,14.5) (2.233,15.7) (2.241,16.9) (2.250,15.0) (2.258,13.2) (2.267,16.3) (2.275,19.4) (2.283,17.6) (2.292,15.7) (2.300,13.8) (2.309,12.0) (2.317,15.0) (2.325,18.1) (2.334,18.4) (2.342,18.8) (2.351,20.3) (2.359,21.8) (2.367,23.6) (2.376,25.5) (2.384,24.9) (2.393,24.3) (2.401,25.5) (2.410,26.7) (2.418,27.3) (2.426,27.9) (2.435,28.3) (2.443,28.6) (2.452,27.0) (2.460,25.5) (2.468,27.4) (2.477,29.2) (2.485,28.2) (2.494,27.3) (2.502,27.6) (2.511,27.9) (2.519,27.9)};
\addplot[ser] coordinates {(2.998,8.9) (3.006,9.9) (3.015,10.8) (3.023,11.4) (3.032,12.0) (3.040,11.1) (3.049,10.2) (3.057,11.4) (3.066,12.6) (3.074,11.4) (3.082,10.2) (3.091,12.0) (3.099,13.8) (3.107,11.4) (3.116,9.6) (3.124,10.5) (3.133,11.4) (3.141,9.8) (3.150,8.3) (3.158,9.6) (3.167,10.8) (3.175,10.5) (3.183,10.2) (3.192,11.1) (3.200,12.0) (3.209,12.6) (3.217,13.2) (3.226,13.8) (3.234,14.5) (3.242,15.1) (3.251,15.7) (3.259,16.3) (3.267,16.9) (3.276,17.4) (3.284,17.8)};
\addplot[ser] coordinates {(3.869,7.1) (3.875,6.2) (3.881,5.3) (3.888,6.5) (3.894,7.7) (3.900,6.8) (3.907,5.9) (3.913,6.5) (3.919,7.1) (3.926,6.8) (3.932,6.5) (3.938,7.1) (3.944,7.7) (3.951,6.2) (3.957,4.7) (3.963,4.0) (3.970,3.4) (3.976,4.4) (3.982,5.9) (3.989,6.5) (3.995,7.1) (4.002,7.4) (4.008,7.7) (4.014,8.2) (4.020,8.6)};
\addplot[ser] coordinates {(5.017,8.9) (5.023,10.4) (5.030,12.0) (5.036,12.3) (5.042,12.6) (5.049,11.4) (5.055,10.2) (5.061,11.7) (5.067,13.2) (5.074,12.3) (5.080,11.4) (5.086,12.0) (5.093,12.6) (5.099,11.7) (5.105,10.8) (5.111,11.4) (5.118,12.0) (5.124,13.2) (5.130,14.5) (5.137,13.2) (5.143,12.0) (5.149,12.6) (5.156,13.2) (5.162,11.0) (5.168,8.9) (5.175,12.0) (5.181,15.1) (5.187,17.0) (5.193,18.8) (5.202,18.2) (5.210,17.5) (5.219,17.6) (5.227,17.8) (5.236,17.6) (5.244,17.5) (5.253,17.6) (5.261,17.8) (5.270,17.9) (5.278,18.1) (5.284,17.9) (5.290,17.8)};
\end{axis}

% ---------- text ----------
\node[font=\tf] at (318,985) {Clear Creek near Mouth near Redding};
\node[font=\tf] at (943,984) {Red Bank Creek at Hwy 99W near Red Bluff};
\node[font=\tf] at (318,647) {Cottonwood Creek at Cottonwood};
\node[font=\tf] at (942,645) {Stony Creek near Mouth};
\node[font=\tf] at (318,304) {Elder Creek near mouth};
\node[font=\tf] at (942,304) {Thomes Creek at Hall Road near Richfield};

\node[font=\lf] at (327,719) {Date};
\node[font=\lf] at (948,692) {Date};
\node[font=\lf] at (329,361) {Date};
\node[font=\lf] at (945,362) {Date};
\node[font=\lf] at (334,35) {Date};
\node[font=\lf] at (963,23) {Date};

\node[font=\lf, rotate=90] at (28,852) {Temperature°C};
\node[font=\lf, rotate=90] at (655,837) {Temperature°C};
\node[font=\lf, rotate=90] at (33,507) {Temperature °C};
\node[font=\lf, rotate=90] at (659,510) {Temperature°C};
\node[font=\lf, rotate=90] at (31,163) {Temperature °C};
\node[font=\lf, rotate=90] at (652,167) {Temperature°C};
\end{tikzpicture}
\end{document}
